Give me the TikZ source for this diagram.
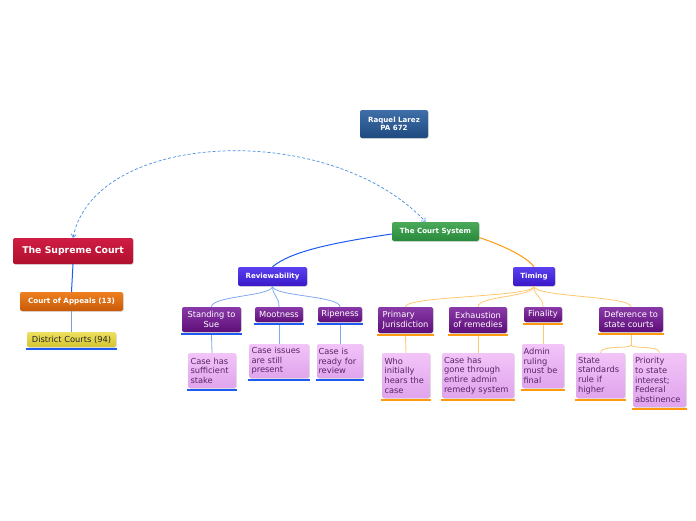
\documentclass[tikz,border=0pt]{standalone}
\usepackage{fontspec}
\setmainfont{DejaVu Sans}
\usetikzlibrary{shadows,arrows.meta}
\definecolor{raqT}{HTML}{3F6FA8}\definecolor{raqB}{HTML}{1F4A80}
\definecolor{csT}{HTML}{4AAA5A}\definecolor{csB}{HTML}{2A8A3C}
\definecolor{scT}{HTML}{D01C44}\definecolor{scB}{HTML}{B0102E}
\definecolor{caT}{HTML}{EE8020}\definecolor{caB}{HTML}{C85A08}
\definecolor{dcT}{HTML}{EEE060}\definecolor{dcB}{HTML}{D4C430}
\definecolor{rvT}{HTML}{5A40F0}\definecolor{rvB}{HTML}{3A18C8}
\definecolor{l3T}{HTML}{8A3AA8}\definecolor{l3B}{HTML}{5E0E78}
\definecolor{lfT}{HTML}{F2C4F8}\definecolor{lfB}{HTML}{E0A4EC}
\definecolor{lftxt}{HTML}{5A2468}
\definecolor{ublue}{HTML}{1E5AF0}\definecolor{uorange}{HTML}{FF9A10}
\definecolor{lblue}{HTML}{7FA8F0}\definecolor{lorange}{HTML}{FFC870}
\definecolor{dashc}{HTML}{4A90E0}
\begin{document}
\begin{tikzpicture}[x=1pt,y=-1pt,
  box/.style={rounded corners=2pt, drop shadow={opacity=0.25,shadow xshift=0.8pt,shadow yshift=-0.8pt}, inner sep=0pt, align=center, text=white},
  hdr/.style={box, font=\bfseries\fontsize{7.1}{8.6}\selectfont},
  lvl/.style={box, top color=l3T, bottom color=l3B, font=\fontsize{8.3}{9.6}\selectfont},
  leaf/.style={box, top color=lfT, bottom color=lfB, text=lftxt, font=\fontsize{8.3}{9.6}\selectfont, align=left},
  ulb/.style={ublue, line width=2pt},
  ulo/.style={uorange, line width=2pt},
  lb/.style={lblue, line width=0.8pt},
  lo/.style={lorange, line width=0.8pt}]
\useasboundingbox (0,0) rectangle (696,520);
% main nodes
\node[hdr, top color=raqT, bottom color=raqB, minimum width=68, minimum height=28] (raq) at (394,124) {Raquel Larez\\PA 672};
\node[hdr, top color=csT, bottom color=csB, minimum width=87, minimum height=19] (cs) at (435.5,231.5) {The Court System};
\node[hdr, top color=scT, bottom color=scB, minimum width=120, minimum height=26, font=\bfseries\fontsize{9.3}{11}\selectfont] (sc) at (73,251) {The Supreme Court};
\node[hdr, top color=caT, bottom color=caB, minimum width=103, minimum height=19, font=\bfseries\fontsize{7.2}{8.6}\selectfont] (ca) at (71.5,301.5) {Court of Appeals (13)};
\node[box, top color=dcT, bottom color=dcB, text=black!85, minimum width=89, minimum height=15, font=\fontsize{8.3}{9}\selectfont] (dc) at (71.5,339.5) {District Courts (94)};
\node[hdr, top color=rvT, bottom color=rvB, minimum width=69, minimum height=19] (rv) at (272.5,276.5) {Reviewability};
\node[hdr, top color=rvT, bottom color=rvB, minimum width=42, minimum height=19] (tm) at (534,276.5) {Timing};
% level 3
\node[lvl, minimum width=59, minimum height=25] (st) at (211.5,319.5) {Standing to\\Sue};
\node[lvl, minimum width=48, minimum height=15] (mo) at (279,314.5) {Mootness};
\node[lvl, minimum width=44, minimum height=15] (ri) at (340,314.5) {Ripeness};
\node[lvl, minimum width=55, minimum height=26, align=left] (pj) at (405.5,320) {Primary\\Jurisdiction};
\node[lvl, minimum width=58, minimum height=26] (ex) at (478,320) {Exhaustion\\of remedies};
\node[lvl, minimum width=38, minimum height=15] (fi) at (543,314.5) {Finality};
\node[lvl, minimum width=64, minimum height=25, align=left] (de) at (631,319.5) {Deference to\\state courts};
% leaves
\node[leaf, minimum width=48, minimum height=35, text width=43] (l1) at (212,370.5) {Case has\\sufficient\\stake};
\node[leaf, minimum width=60, minimum height=34, text width=55] (l2) at (279,361) {Case issues\\are still\\present};
\node[leaf, minimum width=46, minimum height=34, text width=43] (l3) at (340,361) {Case is\\ready for\\review};
\node[leaf, minimum width=48, minimum height=45, text width=43] (l4) at (406,375.5) {Who\\initially\\hears the\\case};
\node[leaf, minimum width=72, minimum height=45, text width=68] (l5) at (478,375.5) {Case has\\gone through\\entire admin\\remedy system};
\node[leaf, minimum width=42, minimum height=44, text width=39] (l6) at (543,366) {Admin\\ruling\\must be\\final};
\node[leaf, minimum width=49, minimum height=45, text width=45] (l7) at (600.5,375.5) {State\\standards\\rule if\\higher};
\node[leaf, minimum width=53, minimum height=54, text width=49] (l8) at (659.5,380) {Priority\\to state\\interest;\\Federal\\abstinence};
% underlines
\draw[ulb] ([xshift=-1pt,yshift=-2pt]dc.south west) -- ([xshift=1pt,yshift=-2pt]dc.south east);
\foreach \n in {st,mo,ri,l1,l2,l3}{\draw[ulb] ([xshift=-1pt,yshift=-2pt]\n.south west) -- ([xshift=1pt,yshift=-2pt]\n.south east);}
\foreach \n in {pj,ex,fi,de,l4,l5,l6,l7,l8}{\draw[ulo] ([xshift=-1pt,yshift=-2pt]\n.south west) -- ([xshift=1pt,yshift=-2pt]\n.south east);}
% connectors
\draw[ublue, line width=1pt] (sc.south) -- (ca.north);
\draw[lblue!70!gray, line width=0.8pt] (ca.south) -- (dc.north);
\draw[ublue, line width=1pt] ([yshift=-2.5pt]cs.west) .. controls (330,243) and (290,252) .. (rv.north);
\draw[uorange, line width=1pt] ([yshift=-6pt]cs.east) .. controls (505,246) and (528,258) .. (tm.north);
\foreach \n in {st,mo,ri}{\draw[lb] (rv.south) .. controls ([yshift=-10pt]rv.south) and ([yshift=11pt]\n.north) .. (\n.north);}
\foreach \n in {pj,ex,fi,de}{\draw[lo] (tm.south) .. controls ([yshift=-11pt]tm.south) and ([yshift=11pt]\n.north) .. (\n.north);}
\draw[lb] ([yshift=-3pt]st.south) -- (l1.north);
\draw[lb] ([yshift=-3pt]mo.south) -- (l2.north);
\draw[lb] ([yshift=-3pt]ri.south) -- (l3.north);
\draw[lo] ([yshift=-3pt]pj.south) -- (l4.north);
\draw[lo] ([yshift=-3pt]ex.south) -- (l5.north);
\draw[lo] ([yshift=-3pt]fi.south) -- (l6.north);
\coordinate (dj) at (631,345);
\draw[lo] ([yshift=-3pt]de.south) -- (dj);
\draw[lo] (dj) .. controls (631,349) and (600,345) .. (l7.north);
\draw[lo] (dj) .. controls (631,349) and (659.5,345) .. (l8.north);
% dashed relation
\draw[dashc, line width=0.7pt, dash pattern=on 3pt off 2pt, {Straight Barb[length=3pt,width=5pt]}-{Straight Barb[length=3pt,width=5pt]}] (sc.north) .. controls (95,130) and (330,120) .. ([xshift=-10pt]cs.north);
\end{tikzpicture}
\end{document}
